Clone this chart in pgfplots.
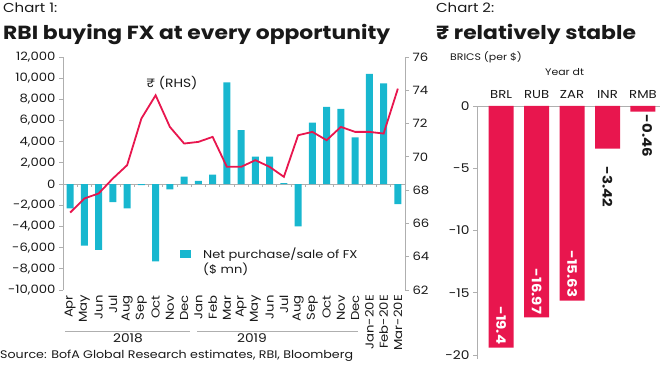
\documentclass[border=0pt]{standalone}
\usepackage{pgfplots}
\pgfplotsset{compat=1.18}
\usepackage{fontspec}
\setmainfont{Poppins}[FakeStretch=1.15]
\definecolor{fxcyan}{RGB}{24,183,207}
\definecolor{inrred}{RGB}{232,22,78}
\definecolor{axgray}{RGB}{175,175,175}
\definecolor{txt}{RGB}{25,25,25}
\newcommand{\fs}[1]{\fontsize{#1}{#1}\selectfont}
\begin{document}
\begin{tikzpicture}
\useasboundingbox (0,0) rectangle (660pt,370pt);
% ---------- headers ----------
\node[anchor=base west, inner sep=0, text=txt, font=\fs{13}] at (3pt,357pt) {Chart 1:};
\node[anchor=base west, inner sep=0, text=txt, font=\fs{19}\bfseries] at (3pt,330pt) {RBI buying FX at every opportunity};
\node[anchor=base west, inner sep=0, text=txt, font=\fs{13}] at (436pt,357pt) {Chart 2:};
\node[anchor=base west, inner sep=0, text=txt, font=\fs{19}\bfseries] at (436pt,330pt) {₹ relatively stable};
\node[anchor=base west, inner sep=0, text=txt, font=\fs{9.5}] at (450pt,309pt) {BRICS (per \$)};
\node[anchor=base west, inner sep=0, text=txt, font=\fs{9.5}] at (545pt,294pt) {Year dt};
\node[anchor=base west, inner sep=0, text=txt, font=\fs{11}] at (0pt,12pt) {Source: BofA Global Research estimates, RBI, Bloomberg};
% ---------- chart 1: bars ----------
\begin{axis}[
  at={(63pt,80pt)}, anchor=south west,
  scale only axis, width=342pt, height=233pt,
  xmin=-0.5, xmax=23.5, ymin=-10000, ymax=12000,
  axis y line*=left, axis x line*=bottom,
  x axis line style={draw=none},
  y axis line style={axgray, line width=0.9pt},
  xtick={0,...,23},
  xticklabels={Apr,May,Jun,Jul,Aug,Sep,Oct,Nov,Dec,Jan,Feb,Mar,Apr,May,Jun,Jul,Aug,Sep,Oct,Nov,Dec,Jan-20E,Feb-20E,Mar-20E},
  xticklabel style={rotate=90, anchor=east, font=\fs{11.5}, text=txt, inner sep=1pt},
  x tick style={draw=none},
  ytick={-10000,-8000,...,12000},
  scaled y ticks=false,
  yticklabel style={font=\fs{11.5}, text=txt, /pgf/number format/.cd, 1000 sep={,}, assume math mode=true},
  y tick style={axgray, line width=0.9pt},
  tick align=outside, major tick length=4pt,
  clip=false,
  ybar, bar width=7pt,
]
\draw[axgray, line width=0.9pt] (axis cs:-0.5,0) -- (axis cs:23.5,0);
\foreach \t in {-0.5,0.5,1.5,2.5,3.5,4.5,5.5,6.5,7.5,8.5,9.5,10.5,11.5,12.5,13.5,14.5,15.5,16.5,17.5,18.5,19.5,20.5,21.5,22.5,23.5}{
  \edef\tmp{\noexpand\draw[axgray,line width=0.7pt] (axis cs:\t,0) -- (axis cs:\t,-250);}\tmp
}
\addplot[fill=fxcyan, draw=none] coordinates {
(0,-2300) (1,-5800) (2,-6200) (3,-1700) (4,-2300) (5,-100) (6,-7300) (7,-500)
(8,700) (9,300) (10,900) (11,9600) (12,5100) (13,2600) (14,2600) (15,100)
(16,-4000) (17,5800) (18,7300) (19,7100) (20,4400) (21,10400) (22,9500) (23,-1900)};
\end{axis}
% ---------- chart 1: rupee line ----------
\begin{axis}[
  at={(63pt,80pt)}, anchor=south west,
  scale only axis, width=342pt, height=233pt,
  xmin=-0.5, xmax=23.5, ymin=62, ymax=76,
  axis y line*=right, axis x line=none,
  y axis line style={axgray, line width=0.9pt},
  ytick={62,64,...,76},
  yticklabel style={font=\fs{11.5}, text=txt, /pgf/number format/assume math mode=true},
  y tick style={axgray, line width=0.9pt},
  tick align=outside, major tick length=4pt,
]
\addplot[inrred, line width=1.8pt, mark=none] coordinates {
(0,66.65) (1,67.5) (2,67.8) (3,68.7) (4,69.5) (5,72.3) (6,73.7) (7,71.8)
(8,70.8) (9,70.9) (10,71.2) (11,69.4) (12,69.4) (13,69.8) (14,69.4) (15,68.8)
(16,71.3) (17,71.5) (18,71.0) (19,71.8) (20,71.5) (21,71.5) (22,71.4) (23,74.1)};
\end{axis}
% legend and annotations
\node[anchor=center, text=txt, font=\fs{12}] at (172pt,287pt) {₹ (RHS)};
\fill[fxcyan] (180pt,112pt) rectangle (191pt,120pt);
\node[anchor=base west, inner sep=0, text=txt, font=\fs{11.3}] at (203pt,112pt) {Net purchase/sale of FX};
\node[anchor=base west, inner sep=0, text=txt, font=\fs{11.3}] at (203pt,97pt) {(\$ mn)};
% year groups
\draw[axgray, line width=0.9pt] (65pt,39pt) -- (190pt,39pt);
\draw[axgray, line width=0.9pt] (197pt,39pt) -- (358pt,39pt);
\node[text=txt, font=\fs{12}] at (128pt,32pt) {2018};
\node[text=txt, font=\fs{12}] at (252pt,32pt) {2019};
% ---------- chart 2 ----------
\begin{axis}[
  at={(477pt,11.3pt)}, anchor=south west,
  scale only axis, width=183pt, height=252.7pt,
  xmin=-0.68, xmax=4.48, ymin=-20.3, ymax=0,
  axis y line*=left, axis x line*=top,
  axis line style={axgray, line width=0.9pt},
  xtick={0,...,4}, xticklabels={BRL,RUB,ZAR,INR,RMB},
  xticklabel style={font=\fs{11.5}, text=txt},
  x tick style={draw=none},
  ytick={-20,-15,...,0},
  yticklabel style={font=\fs{12}, text=txt, /pgf/number format/assume math mode=true},
  y tick style={axgray, line width=0.9pt},
  tick align=outside, major tick length=4pt,
  ybar, bar width=25pt, clip=false,
]
\addplot[fill=inrred, draw=none] coordinates {(0,-19.4) (1,-16.97) (2,-15.63) (3,-3.42) (4,-0.46)};
\node[rotate=-90, anchor=east, inner sep=3pt, text=white, font=\fs{13}\bfseries] at (axis cs:0,-19.4) {-19.4};
\node[rotate=-90, anchor=east, inner sep=3pt, text=white, font=\fs{13}\bfseries] at (axis cs:1,-16.97) {-16.97};
\node[rotate=-90, anchor=east, inner sep=3pt, text=white, font=\fs{13}\bfseries] at (axis cs:2,-15.63) {-15.63};
\node[rotate=-90, anchor=west, inner xsep=18pt, inner ysep=2pt, text=txt, font=\fs{13}\bfseries] at (axis cs:3,-3.42) {-3.42};
\node[rotate=-90, anchor=west, inner xsep=3pt, inner ysep=2pt, text=txt, font=\fs{13}\bfseries] at (axis cs:4.12,-0.46) {-0.46};
\end{axis}
\end{tikzpicture}
\end{document}
